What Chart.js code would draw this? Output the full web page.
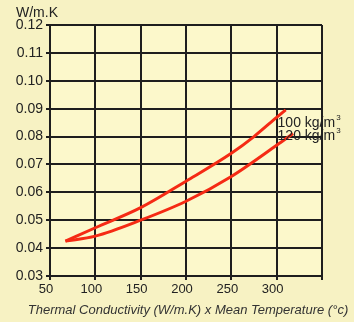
<!DOCTYPE html>
<html>
<head>
<meta charset="utf-8">
<script src="https://cdn.jsdelivr.net/npm/chart.js@4/dist/chart.umd.min.js"></script>
<style>
  html, body { margin: 0; padding: 0; background: #f7f2c3; }
  canvas { display: block; }
</style>
</head>
<body>
<canvas id="k-chart" width="354" height="322"></canvas>
<script>
/* data */
let temps100 = [67, 100, 150, 200, 250, 275, 300, 310]
let kValues100 = [0.0425, 0.0473, 0.0545, 0.064, 0.074, 0.080, 0.0869, 0.0896]

let temps120 = [67, 100, 150, 200, 250, 300, 318]
let kValues120 = [0.0425, 0.0443, 0.050, 0.0568, 0.0657, 0.0769, 0.0811]

let seriesNames = ['100 kg/m', '120 kg/m']
let xTicks = [50, 100, 150, 200, 250, 300]
let yUnit = 'W/m.K'
let xTitle = 'Thermal Conductivity (W/m.K) x Mean Temperature (°c)'

function toPoints(xs, ys) {
    return xs.map((x, i) => ({ x: x, y: ys[i] }))
}

let lineColor = '#f52a14'
let inkColor = '#1e1e1e'

// paper colours, axis titles and the curve labels
let paperPlugin = {
    id: 'paper',
    beforeDraw(chart) {
        let c = chart.ctx
        let a = chart.chartArea
        c.save()
        c.fillStyle = '#f7f2c3'
        c.fillRect(0, 0, chart.width, chart.height)
        c.fillStyle = '#fcf8cb'
        c.fillRect(a.left, a.top, a.right - a.left, a.bottom - a.top)
        c.restore()
    },
    afterDraw(chart) {
        let c = chart.ctx
        let xs = chart.scales.x
        let ys = chart.scales.y
        c.save()
        c.fillStyle = '#222'
        c.textBaseline = 'middle'
        c.textAlign = 'left'
        c.font = '14px "Liberation Sans", Arial, sans-serif'
        c.fillText(yUnit, 16, 13)

        // x title is wider than the plot, so draw it here (scale title gets squeezed)
        c.fillStyle = '#333'
        c.textAlign = 'center'
        c.font = 'italic 13px "Liberation Sans", Arial, sans-serif'
        c.fillText(xTitle, 188, 310)

        // labels next to the line ends
        c.fillStyle = '#222'
        c.textAlign = 'left'
        let lx = xs.getPixelForValue(301)
        let base1 = ys.getPixelForValue(0.0835)
        let base2 = ys.getPixelForValue(0.0788)
        c.textBaseline = 'alphabetic'
        ;[base1, base2].forEach((b, i) => {
            c.font = '14px "Liberation Sans", Arial, sans-serif'
            c.fillText(seriesNames[i], lx, b)
            let w = c.measureText(seriesNames[i]).width
            c.font = '8px "Liberation Sans", Arial, sans-serif'
            c.fillText('3', lx + w + 1, b - 7)
        })
        c.restore()
    }
}

let ctx = document.querySelector('#k-chart').getContext('2d')

let kChart = new Chart(ctx, {
    type: 'line',
    data: {
        datasets: [{
            label: seriesNames[0],
            data: toPoints(temps100, kValues100),
            borderColor: lineColor,
            borderWidth: 3,
            pointRadius: 0,
            cubicInterpolationMode: 'monotone',
            fill: false
        }, {
            label: seriesNames[1],
            data: toPoints(temps120, kValues120),
            borderColor: lineColor,
            borderWidth: 3,
            pointRadius: 0,
            cubicInterpolationMode: 'monotone',
            fill: false
        }]
    },
    options: {
        responsive: false,
        animation: false,
        layout: { padding: { top: 25, right: 32, bottom: 0, left: 0 } },
        plugins: {
            legend: { display: false },
            tooltip: { enabled: false }
        },
        scales: {
            x: {
                type: 'linear',
                min: 50,
                max: 350,
                afterBuildTicks: (scale) => {
                    scale.ticks = [50, 100, 150, 200, 250, 300, 350].map(v => ({ value: v }))
                },
                afterFit: (scale) => { scale.height = 46 },
                grid: { color: inkColor, lineWidth: 2, tickLength: 4, drawTicks: true },
                border: { color: inkColor, width: 2 },
                ticks: {
                    color: '#222',
                    padding: 2,
                    labelOffset: -4,
                    maxRotation: 0,
                    autoSkip: false,
                    font: { family: '"Liberation Sans", Arial, sans-serif', size: 13 },
                    callback: (v) => xTicks.includes(v) ? String(v) : ''
                }
            },
            y: {
                min: 0.03,
                max: 0.12,
                afterFit: (scale) => { scale.width = 50 },
                grid: { color: inkColor, lineWidth: 2, tickLength: 4 },
                border: { color: inkColor, width: 2 },
                ticks: {
                    stepSize: 0.01,
                    color: '#222',
                    padding: 3,
                    font: { family: '"Liberation Sans", Arial, sans-serif', size: 14 },
                    callback: (v) => v.toFixed(2)
                }
            }
        }
    },
    plugins: [paperPlugin]
})
</script>
</body>
</html>
